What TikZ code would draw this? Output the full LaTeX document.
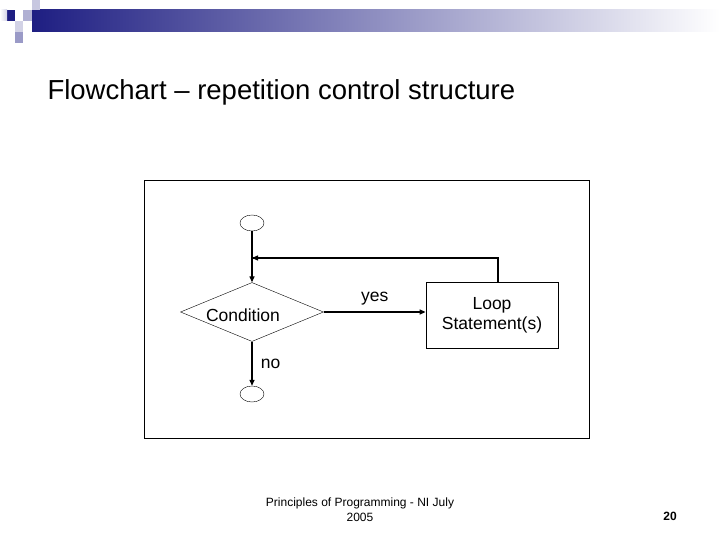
\documentclass[tikz,border=0pt]{standalone}
\usepackage{fontspec}
\setmainfont{Liberation Sans}
\usetikzlibrary{shapes.geometric,arrows.meta}
\definecolor{navy}{RGB}{30,30,130}
\begin{document}
\begin{tikzpicture}[x=1pt,y=-1pt,
  lab/.style={font=\fontsize{17.5}{20}\selectfont},
  term/.style={draw,ellipse,minimum width=24pt,minimum height=16pt,inner sep=0pt},
  conn/.style={draw,line width=1.3pt,-{Triangle[length=6pt,width=5pt]}}]
\useasboundingbox (0,0) rectangle (720,540);
% header decoration
\shade[left color=navy,right color=white] (32,10) rectangle (720,32);
\fill[navy] (7,10) rectangle (15,21);
\fill[navy!25] (32,0) rectangle (40,10);
\fill[navy!35] (23,10) rectangle (32,21);
\fill[navy!20] (15,21) rectangle (23,32);
\fill[navy!45] (15,32) rectangle (23,43);
\shade[left color=white,right color=navy!20] (0,10) rectangle (7,21);
\node[anchor=base west,font=\fontsize{27.5}{30}\selectfont] (title) at (44,100) {Flowchart – repetition control structure};
% frame
\draw[line width=0.8pt] (144,180) rectangle (589,438);
\node[term] (start) at (252,223) {};
\node[draw,diamond,aspect=2.42,minimum width=143pt,minimum height=59pt,inner sep=0pt] (cond) at (252,312) {};
\node[lab] (condt) at (243,315) {Condition};
\node[draw,thick,minimum width=132pt,minimum height=66pt,align=center,lab] (loop) at (492,315) {Loop\\Statement(s)};
\node[term] (stop) at (252,394) {};
\coordinate (j) at (252,258);
\coordinate (c) at (498,258);
\draw[conn] (start) -- (cond.north);
\draw[line width=1.3pt] (loop.north -| c) -- (c) -- (j);
\draw[conn] (c) -- (j);
\draw[conn] (cond.east) -- node[above=3pt,lab] (yes) {yes} (cond.east -| loop.west);
\draw[conn] (cond.south) -- node[right=5pt,lab] (no) {no} (stop.north);
% footer
\node[align=center,font=\fontsize{12}{14}\selectfont] (foot) at (360,510) {Principles of Programming - NI July\\[1pt]2005};
\node[font=\bfseries\fontsize{12}{14}\selectfont] (num) at (670,516) {20};
\end{tikzpicture}
\end{document}
